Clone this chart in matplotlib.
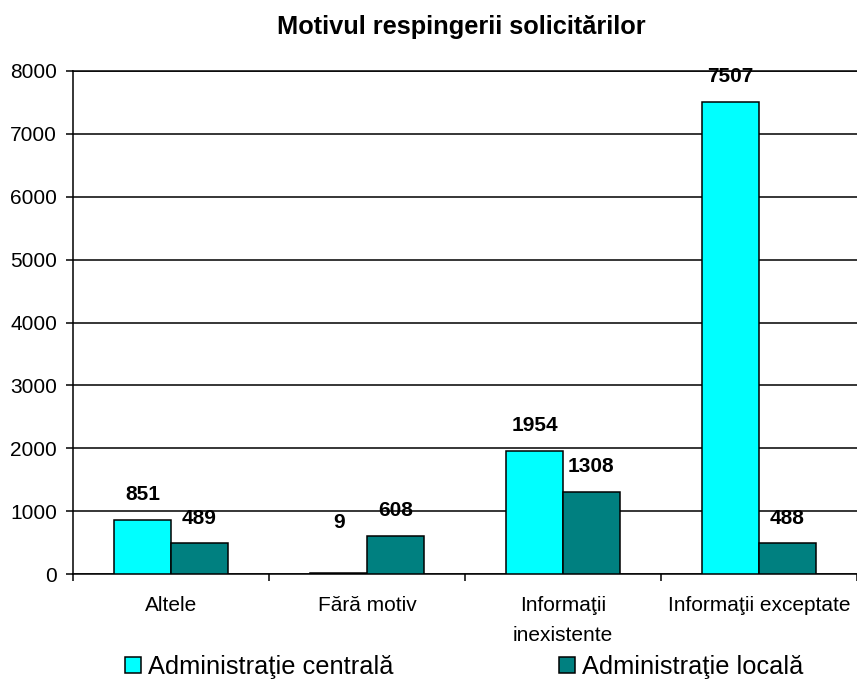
import matplotlib
matplotlib.use("Agg")
import matplotlib.pyplot as plt
import numpy as np
from matplotlib.patches import Patch

categories = ["Altele", "Fără motiv", "Informaţii\ninexistente", "Informaţii exceptate"]
series_names = ["Administraţie centrală", "Administraţie locală"]
central = [851, 9, 1954, 7507]
local = [489, 608, 1308, 488]
yticks = [0, 1000, 2000, 3000, 4000, 5000, 6000, 7000, 8000]
title = "Motivul respingerii solicitărilor"

colors = ["#00FFFF", "#008080"]
label_offsets_central = [18.5, 36.5, 18.5, 18.5]
label_offsets_local = [18.0, 18.5, 18.5, 18.0]

plt.rcParams['font.family'] = ['Liberation Sans', 'DejaVu Sans']

fig = plt.figure(figsize=(8.57, 6.8), dpi=100)
ax = fig.add_axes([73/857, 1-574/680, 1-73/857, (574-71)/680])

x = np.arange(len(categories))
w = 0.29
b1 = ax.bar(x - w/2, central, w, color=colors[0], edgecolor="black", linewidth=1.1, zorder=3)
b2 = ax.bar(x + w/2, local, w, color=colors[1], edgecolor="black", linewidth=1.1, zorder=3)

for rect, v, off in zip(b1, central, label_offsets_central):
    ax.annotate(str(v), (rect.get_x() + rect.get_width()/2, rect.get_height()),
                xytext=(0, off), textcoords="offset points", ha="center", va="center",
                fontsize=15, fontweight="bold", zorder=5, annotation_clip=False)
for rect, v, off in zip(b2, local, label_offsets_local):
    ax.annotate(str(v), (rect.get_x() + rect.get_width()/2, rect.get_height()),
                xytext=(0, off), textcoords="offset points", ha="center", va="center",
                fontsize=15, fontweight="bold", zorder=5, annotation_clip=False)

ax.set_xlim(-0.5, len(categories) - 0.5)
ax.set_ylim(0, 8000)
ax.set_yticks(yticks)
ax.set_yticklabels([str(t) for t in yticks], fontsize=15)
ax.yaxis.grid(True, color="black", linewidth=1.1, zorder=0)
ax.set_axisbelow(True)

ax.set_xticks(x)
ax.set_xticklabels(categories, fontsize=15, linespacing=1.72)
ax.tick_params(axis="x", which="major", length=0, pad=16)
ax.set_xticks(np.arange(len(categories) + 1) - 0.5, minor=True)
ax.tick_params(axis="x", which="minor", length=5, width=1.1, direction="out")
ax.tick_params(axis="y", length=5, width=1.1, direction="out", pad=6.5)

for s in ["left", "bottom", "top"]:
    ax.spines[s].set_linewidth(1.1)
    ax.spines[s].set_color("black")
ax.spines["right"].set_visible(False)

fig.text(461/857, 1-27/680, title, ha="center", va="center", fontsize=18.3, fontweight="bold")

h1 = Patch(facecolor=colors[0], edgecolor="black", linewidth=1.1)
h2 = Patch(facecolor=colors[1], edgecolor="black", linewidth=1.1)
leg1 = fig.legend([h1], [series_names[0]], loc="center left", bbox_to_anchor=(125/857, 1-667/680),
                  frameon=False, fontsize=18.3, handlelength=0.62, handleheight=0.62, handletextpad=0.3,
                  borderpad=0, borderaxespad=0)
leg2 = fig.legend([h2], [series_names[1]], loc="center left", bbox_to_anchor=(559/857, 1-667/680),
                  frameon=False, fontsize=18.3, handlelength=0.62, handleheight=0.62, handletextpad=0.3,
                  borderpad=0, borderaxespad=0)

fig.savefig("out.png", dpi=100)
